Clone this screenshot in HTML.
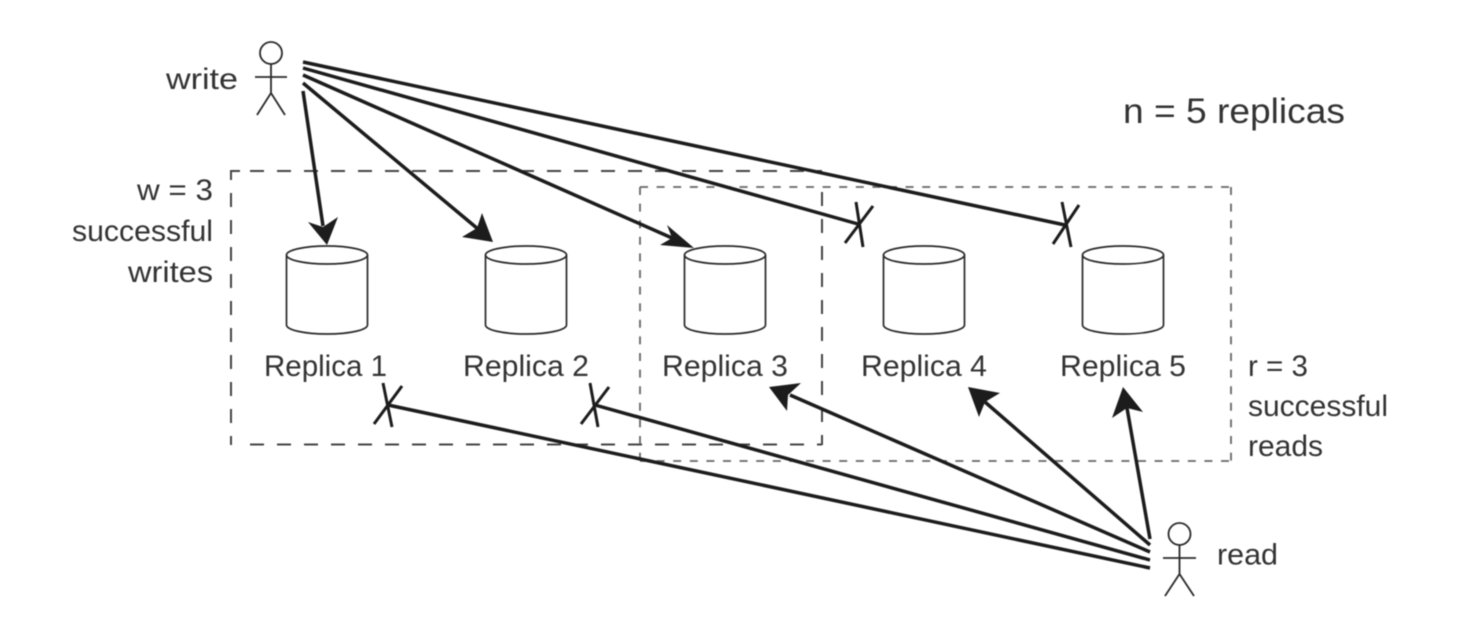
<!DOCTYPE html>
<html>
<head>
<meta charset="utf-8">
<style>
html,body{margin:0;padding:0;background:#fff;width:1474px;height:636px;overflow:hidden}
svg{display:block;filter:blur(0.6px)}
text{font-family:"Liberation Sans",sans-serif;font-size:30px;fill:#333}
</style>
</head>
<body>
<svg width="1474" height="636" viewBox="0 0 1474 636" xmlns="http://www.w3.org/2000/svg">
<rect width="1474" height="636" fill="#fff"/>

<!-- long-dash box -->
<g fill="none" stroke="#444" stroke-width="2">
<path d="M240 171H231V180"/>
<path d="M250 171H822" stroke-dasharray="14 13"/>
<path d="M231 193V445" stroke-dasharray="14 13"/>
<path d="M250 444.500H822" stroke-dasharray="14 13"/>
<path d="M822 192V445" stroke-dasharray="14 13"/>
</g>
<!-- short-dash box -->
<g fill="none" stroke="#666" stroke-width="1.800" stroke-dasharray="8 8.600">
<path d="M640 187H1231"/>
<path d="M640 187V461"/>
<path d="M1231 187V461"/>
<path d="M640 461H1231"/>
</g>

<!-- cylinders -->
<g fill="none" stroke="#2a2a2a" stroke-width="1.700">
<g><ellipse cx="327" cy="255" rx="40.500" ry="9"/><path d="M286.500 255V325A40.500 9 0 0 0 367.500 325V255"/></g>
<g><ellipse cx="526" cy="255" rx="40.500" ry="9"/><path d="M485.500 255V325A40.500 9 0 0 0 566.500 325V255"/></g>
<g><ellipse cx="725" cy="255" rx="40.500" ry="9"/><path d="M684.500 255V325A40.500 9 0 0 0 765.500 325V255"/></g>
<g><ellipse cx="924" cy="255" rx="40.500" ry="9"/><path d="M883.500 255V325A40.500 9 0 0 0 964.500 325V255"/></g>
<g><ellipse cx="1123" cy="255" rx="40.500" ry="9"/><path d="M1082.500 255V325A40.500 9 0 0 0 1163.500 325V255"/></g>
</g>

<!-- stick figures -->
<g fill="none" stroke="#2a2a2a" stroke-width="1.800">
<circle cx="271" cy="53" r="11"/>
<path d="M271 64V93M255 77H287M271 93L257 115M271 93L285 115"/>
<circle cx="1179.500" cy="534" r="11"/>
<path d="M1179.500 545V574M1163 558H1196M1179.500 574L1165 596M1179.500 574L1194 596"/>
</g>

<!-- write lines -->
<g fill="none" stroke="#1c1c1c" stroke-width="3.500">
<path d="M303 91L323 226"/>
<path d="M303 83L478 229"/>
<path d="M303 75L672 238"/>
<path d="M303 68L858 224"/>
<path d="M303 62L1065 225"/>
<!-- read lines -->
<path d="M1150 568L388 405"/>
<path d="M1150 560L595 405"/>
<path d="M1150 552L790 395"/>
<path d="M1150 545L985 402"/>
<path d="M1150 539L1127 408"/>
</g>

<!-- x marks -->
<g stroke="#1c1c1c" stroke-width="3" fill="none">
<path d="M856 202L863 247M873 206L845 243"/>
<path d="M1062 202L1071 247M1079 205L1053 244"/>
<path d="M383 383L392 427M402 386L374 424"/>
<path d="M590 383L598 427M609 387L581 424"/>
</g>

<!-- arrowheads -->
<g fill="#1c1c1c">
<polygon points="327,245 308,222 323,227 338,217"/>
<polygon points="493,242 462,237 477,228 482,213"/>
<polygon points="694,248 660,245 672,238 667,225"/>
<polygon points="769,387 801,383 788,395 787,411"/>
<polygon points="968,387 1000,393 985,402 979,417"/>
<polygon points="1123,387 1143,412 1127,408 1112,418"/>
</g>

<!-- labels -->
<text x="166" y="89" textLength="72" lengthAdjust="spacingAndGlyphs">write</text>
<text x="1217" y="564.500" textLength="61" lengthAdjust="spacingAndGlyphs">read</text>
<text x="1123" y="123" textLength="222" lengthAdjust="spacingAndGlyphs" style="font-size:35px">n = 5 replicas</text>
<text x="137" y="200" textLength="76" lengthAdjust="spacingAndGlyphs">w = 3</text>
<text x="72" y="241" textLength="141" lengthAdjust="spacingAndGlyphs">successful</text>
<text x="128" y="282" textLength="85" lengthAdjust="spacingAndGlyphs">writes</text>
<text x="1248" y="376" textLength="60" lengthAdjust="spacingAndGlyphs">r = 3</text>
<text x="1248" y="416" textLength="140" lengthAdjust="spacingAndGlyphs">successful</text>
<text x="1248" y="456" textLength="75" lengthAdjust="spacingAndGlyphs">reads</text>
<text x="264" y="376" textLength="123" lengthAdjust="spacingAndGlyphs">Replica 1</text>
<text x="463" y="376" textLength="126" lengthAdjust="spacingAndGlyphs">Replica 2</text>
<text x="662" y="376" textLength="126" lengthAdjust="spacingAndGlyphs">Replica 3</text>
<text x="861" y="376" textLength="126" lengthAdjust="spacingAndGlyphs">Replica 4</text>
<text x="1060" y="376" textLength="126" lengthAdjust="spacingAndGlyphs">Replica 5</text>
</svg>
</body>
</html>
